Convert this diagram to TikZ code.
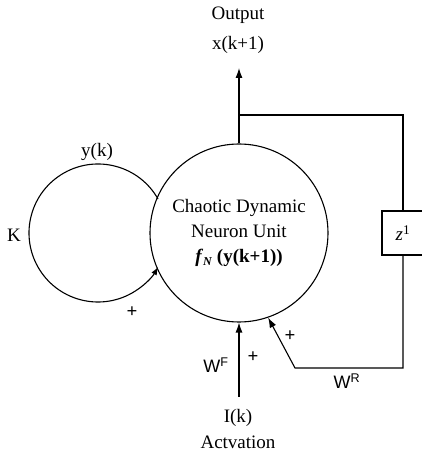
\documentclass[tikz,border=0pt]{standalone}
\usepackage{fontspec}
\setmainfont{Liberation Serif}
\newfontfamily\wfont{Liberation Sans}
\usetikzlibrary{arrows.meta}
\begin{document}
\begin{tikzpicture}[x=1pt,y=1pt,
  line width=1.1pt,
  lbl/.style={inner sep=0pt,font=\fontsize{19}{21}\selectfont},
  plus/.style={inner sep=0pt,font=\fontsize{19}{19}\selectfont\bfseries},
  arr/.style={-{Latex[length=10pt,width=7pt]}},
  sarr/.style={-{Latex[length=8pt,width=6pt]}}]
\useasboundingbox (0,0) rectangle (422,458);
% main neuron
\node[draw,circle,minimum size=178pt,inner sep=0pt,align=center,
      font=\fontsize{19}{25}\selectfont] (cdn) at (239,225)
  {Chaotic Dynamic\\Neuron Unit\\\textbf{\textit{f}\raisebox{-0.3ex}{\fontsize{12}{12}\selectfont\textit{N}} (y(k+1))}};
% self loop
\coordinate (sc) at (98,225);
\coordinate (lt) at (158.05,258.98);
\draw[sarr] (lt) arc[start angle=29.5,end angle=330.5,radius=69];
% output
\coordinate (outtip) at (239,390);
\coordinate (junc) at (239,343);
\draw[arr] (cdn.north) -- (outtip);
% delay box (its right side lies beyond the picture's edge)
\node[lbl] (dly) at (403,225) {\textit{z}\textsuperscript{1}};
\coordinate (bxtl) at (382,247);
\coordinate (bxbl) at (382,203);
\draw (425,247) -- (bxtl) -- (bxbl) -- (425,203);
\coordinate (tr) at (403,343);
\coordinate (tb) at (403,247);
\coordinate (bt) at (403,203);
\coordinate (br) at (403,90);
\coordinate (bl) at (295,90);
\draw (junc) -- (tr) -- (tb);
\draw[arr] (bt) -- (br) -- (bl) -- (cdn.-71);
% input
\coordinate (inb) at (239,61);
\draw[arr] (inb) -- (cdn.south);
% labels
\node[lbl] (lout) at (238,443) {Output};
\node[lbl] (lx) at (238,413) {x(k+1)};
\node[lbl] (ly) at (97,306) {y(k)};
\node[lbl] (lk) at (14,223) {K};
\node[plus] (p1) at (132,146) {+};
\node[plus] (p2) at (253,101) {+};
\node[plus] (p3) at (290,122) {+};
\node[lbl,font=\fontsize{18}{20}\wfont] (wf) at (216,93) {W\textsuperscript{F}};
\node[lbl,font=\fontsize{18}{20}\wfont] (wr) at (347,77) {W\textsuperscript{R}};
\node[lbl] (li) at (238,40) {I(k)};
\node[lbl] (la) at (238,16) {Actvation};
\end{tikzpicture}
\end{document}
